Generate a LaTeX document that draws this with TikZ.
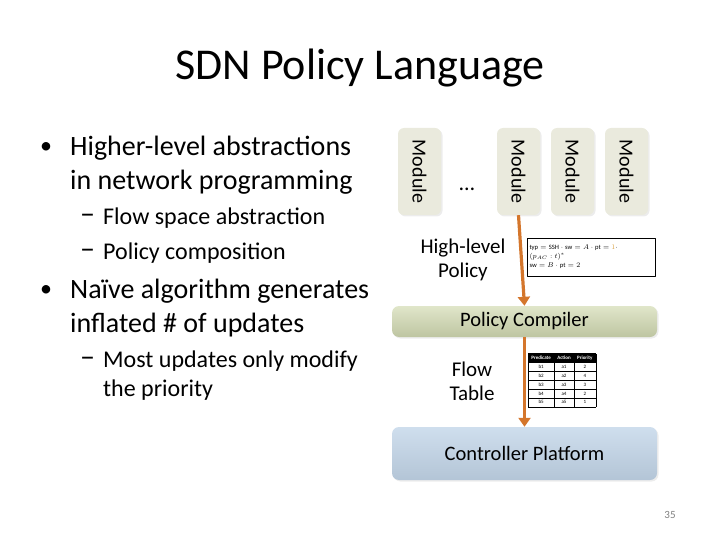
\documentclass[tikz,border=0pt]{standalone}
\usepackage{fontspec}
\setmainfont{Carlito}
\usepackage{colortbl}
\usetikzlibrary{arrows.meta,shadows}

\definecolor{modfill}{HTML}{EAEADD}
\definecolor{compfill}{HTML}{D3DBB3}
\definecolor{platfill}{HTML}{C3D6E9}
\definecolor{flowcol}{HTML}{D4762C}
\definecolor{onecol}{HTML}{D9A040}

\tikzset{
  bullettext/.style={anchor=west,align=left,inner sep=0pt},
  big/.style={font=\fontsize{28}{34}\selectfont},
  small/.style={font=\fontsize{24}{29}\selectfont},
  dashmark/.style={anchor=west,inner sep=0pt,font=\fontsize{30}{30}\selectfont},
  module/.style={rounded corners=6pt,fill=modfill,minimum width=43pt,minimum height=87pt,
    drop shadow={opacity=0.15,shadow xshift=1.5pt,shadow yshift=-1.5pt}},
  layer/.style={rounded corners=7pt,minimum width=265pt,font=\fontsize{20.5}{24}\selectfont,
    drop shadow={opacity=0.15,shadow xshift=1.5pt,shadow yshift=-1.5pt}},
  flow/.style={draw=flowcol,line width=3.2pt,-{Triangle[width=12pt,length=9pt,fill=flowcol]}},
}

\begin{document}
\begin{tikzpicture}[line join=round,x=1pt,y=-1pt]
  \useasboundingbox (0,0) rectangle (720,540);
  % titre
  \node[font=\fontsize{44}{52}\selectfont] (title) at (360,68) {SDN Policy Language};
  % puces
  \node[bullettext,font=\fontsize{24}{34}\selectfont] (dotA) at (40,148) {\textbullet};
  \node[bullettext,big] (itemA) at (70,165) {Higher-level abstractions\\in network programming};
  \node[dashmark] (dashA) at (80,219) {\textendash};
  \node[bullettext,small] (subA) at (103,218) {Flow space abstraction};
  \node[dashmark] (dashB) at (80,254) {\textendash};
  \node[bullettext,small] (subB) at (103,253) {Policy composition};
  \node[bullettext,font=\fontsize{24}{34}\selectfont] (dotB) at (40,291) {\textbullet};
  \node[bullettext,big] (itemB) at (70,308) {Na\"ive algorithm generates\\inflated \# of updates};
  \node[dashmark] (dashC) at (80,362) {\textendash};
  \node[bullettext,small] (subC) at (103,375.5) {Most updates only modify\\the priority};
  % modules
  \node[module] (modA) at (419.5,171.5) {};
  \node[module] (modB) at (518.5,171.5) {};
  \node[module] (modC) at (572.5,171.5) {};
  \node[module] (modD) at (626.5,171.5) {};
  \foreach \m in {modA,modB,modC,modD}
    \node[rotate=-90,font=\fontsize{20}{24}\selectfont] at (\m) {Module};
  \node[font=\fontsize{22}{24}\selectfont] (dots) at (467,189) {\dots};
  % couches
  \node[layer,minimum height=31pt,top color=compfill!70!white,bottom color=compfill!90!black] (compiler) at (524.5,321.5) {Policy Compiler};
  \node[layer,minimum height=53pt,top color=platfill!80!white,bottom color=platfill!92!black] (platform) at (524.5,453.5) {Controller Platform};
  % textes
  \node[align=center,font=\fontsize{21}{24}\selectfont] (hlpol) at (463,260) {High-level\\Policy};
  \node[align=center,font=\fontsize{21}{24}\selectfont] (ftab) at (472,381) {Flow\\Table};
  \node[draw,line width=0.8pt,minimum width=128pt,minimum height=38pt,text width=123pt,align=left,inner sep=2pt,
        font=\fontsize{6.6}{9}\selectfont] (polbox) at (591,257)
    {$\mathrm{typ}=\mathrm{SSH}\cdot\mathrm{sw}=A\cdot\mathrm{pt}=\textcolor{onecol}{1}\cdot$\\$(p_{AC}:t)^*$\\$\mathrm{sw}=B\cdot\mathrm{pt}=2$};
  \node[inner sep=0pt,font=\fontsize{5}{8.5}\selectfont] (flowtbl) at (562,380) {\setlength{\tabcolsep}{3pt}%
    \begin{tabular}{|c|c|c|}\hline
      \rowcolor{black}\textcolor{white}{\textbf{Predicate}} & \textcolor{white}{\textbf{Action}} & \textcolor{white}{\textbf{Priority}}\\\hline
      b1 & a1 & 2\\\hline
      b2 & a2 & 4\\\hline
      b3 & a3 & 3\\\hline
      b4 & a4 & 2\\\hline
      b5 & a5 & 1\\\hline
    \end{tabular}};
  % fleches
  \draw[flow] (modB.south) -- (compiler.north);
  \draw[flow] (compiler.south) -- (platform.north);
  % numero
  \node[gray,font=\fontsize{11}{13}\selectfont] (pnum) at (670,515) {35};
\end{tikzpicture}
\end{document}
